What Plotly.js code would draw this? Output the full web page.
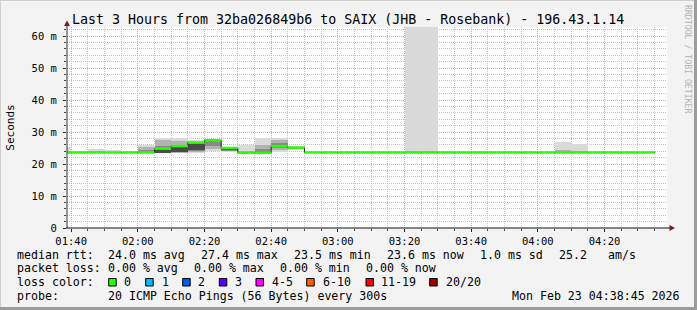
<!DOCTYPE html>
<html>
<head>
<meta charset="utf-8">
<script src="https://cdn.plot.ly/plotly-3.0.1.min.js"></script>
<style>
  html, body { margin: 0; padding: 0; background: #f3f3f3; }
  #chart { width: 697px; height: 310px; }
</style>
</head>
<body>
<div id="chart"></div>
<script>
// ---------------- data ----------------
const day = '2026-02-23 ';
const stepStart = ['01:35','01:40','01:45','01:50','01:55','02:00','02:05','02:10','02:15','02:20',
                   '02:25','02:30','02:35','02:40','02:45','02:50','02:55','03:00','03:05','03:10',
                   '03:15','03:20','03:25','03:30','03:35','03:40','03:45','03:50','03:55','04:00',
                   '04:05','04:10','04:15','04:20','04:25','04:30'];
const lastStepEnd = '04:35';

// median rtt (ms)
const median = [23.6,23.6,23.6,23.6,23.6,23.6,24.8,25.6,26.7,27.4,
                25.0,23.5,23.5,25.6,25.1,23.6,23.6,23.6,23.6,23.6,
                23.6,23.6,23.6,23.6,23.6,23.6,23.6,23.6,23.6,23.6,
                23.6,23.6,23.6,23.6,23.6,23.6];

// smoke layers (ms): outer (min..max), then inner percentile bands
const smokeLo1 = [23.3,23.3,23.3,23.3,23.3,23.3,23.3,23.3,23.3,24.2,
                  23.8,23.3,23.3,23.6,24.7,23.3,23.3,23.3,23.3,23.3,
                  23.3,23.3,23.3,23.3,23.3,23.3,23.3,23.3,23.3,23.3,
                  23.3,23.3,23.3,23.3,23.3,23.3];
const smokeHi1 = [25.3,23.9,24.8,24.5,23.9,26.0,28.1,28.1,27.4,27.9,
                  25.2,25.8,28.1,28.2,25.5,23.9,23.9,23.9,23.9,23.9,
                  23.9,80.0,80.0,23.9,23.9,23.9,23.9,23.9,23.9,23.9,
                  26.9,26.2,23.9,23.9,23.9,23.9];
const smokeLo2 = [23.4,23.4,23.4,23.4,23.4,23.4,23.4,23.5,23.6,24.6,
                  24.0,23.4,23.4,24.4,24.8,23.4,23.4,23.4,23.4,23.4,
                  23.4,23.4,23.4,23.4,23.4,23.4,23.4,23.4,23.4,23.4,
                  23.4,23.4,23.4,23.4,23.4,23.4];
const smokeHi2 = [24.2,23.8,24.0,23.9,23.8,25.4,27.4,27.1,27.0,27.6,
                  25.1,24.2,26.0,27.6,25.4,23.8,23.8,23.8,23.8,23.8,
                  23.8,24.0,24.0,23.8,23.8,23.8,23.8,23.8,23.8,23.8,
                  24.5,24.2,23.8,23.8,23.8,23.8];
const smokeLo3 = [23.5,23.5,23.5,23.5,23.5,23.5,23.5,23.8,24.2,25.6,
                  24.2,23.5,23.5,25.0,24.9,23.5,23.5,23.5,23.5,23.5,
                  23.5,23.5,23.5,23.5,23.5,23.5,23.5,23.5,23.5,23.5,
                  23.5,23.5,23.5,23.5,23.5,23.5];
const smokeHi3 = [23.7,23.7,23.7,23.7,23.7,24.4,25.6,25.9,26.9,27.5,
                  25.0,23.7,24.6,26.6,25.3,23.7,23.7,23.7,23.7,23.7,
                  23.7,23.7,23.7,23.7,23.7,23.7,23.7,23.7,23.7,23.7,
                  23.7,23.7,23.7,23.7,23.7,23.7];
const smokeLo4 = [null,null,null,null,null,null,23.4,23.6,24.5,null,
                  24.3,null,null,null,null,null,null,null,null,null,
                  null,null,null,null,null,null,null,null,null,null,
                  null,null,null,null,null,null];
const smokeHi4 = [null,null,null,null,null,null,24.6,25.2,26.2,null,
                  24.9,null,null,null,null,null,null,null,null,null,
                  null,null,null,null,null,null,null,null,null,null,
                  null,null,null,null,null,null];

// y ticks
const yTickVals = [0,10,20,30,40,50,60];
const yTickText = ['0','10 m','20 m','30 m','40 m','50 m','60 m'];

// legend texts
const rttLabels = ['median rtt:','24.0 ms avg','27.4 ms max','23.5 ms min','23.6 ms now','1.0 ms sd','25.2','am/s'];
const lossLabels = ['packet loss:','0.00 % avg','0.00 % max','0.00 % min','0.00 % now'];
const lossColorNames = ['0','1','2','3','4-5','6-10','11-19','20/20'];
const lossColors = ['#26ff00','#00b8ff','#0059ff','#5e00ff','#ff00ff','#ff5e00','#ff0000','#a10000'];
const probeText = '20 ICMP Echo Pings (56 Bytes) every 300s';
const stampText = 'Mon Feb 23 04:38:45 2026';
const titleText = 'Last 3 Hours from 32ba026849b6 to SAIX (JHB - Rosebank) - 196.43.1.14';

// ---------------- layout helpers ----------------
const FONT = 'DejaVu Sans Mono';
const L = 67, R = 667, T = 27, B = 228;
const W = R - L, H = B - T;
const px = x => (x - L) / W;
const py = y => (B - y) / H;

const xs = stepStart.map(t => day + t + ':00');
const bounds = xs.concat([day + lastStepEnd + ':00']);

function smokeTrace(lo, hi, color) {
  return {
    type: 'bar', x: xs, base: lo,
    y: hi.map((h, i) => (h == null || lo[i] == null) ? null : h - lo[i]),
    offset: 0, width: 300000,
    marker: { color: color, line: { width: 0 } },
    hoverinfo: 'skip'
  };
}

const traces = [
  smokeTrace(smokeLo1, smokeHi1, '#dadada'),
  smokeTrace(smokeLo2, smokeHi2, '#b2b2b2'),
  smokeTrace(smokeLo3, smokeHi3, '#8a8a8a'),
  smokeTrace(smokeLo4, smokeHi4, '#4a4a4a'),
  {
    type: 'scatter', mode: 'lines',
    x: bounds, y: median.concat([median[median.length - 1]]),
    line: { shape: 'hv', color: '#202020', width: 1 },
    hoverinfo: 'skip'
  }
];
// green median segments (horizontal only)
const gx = [], gy = [];
median.forEach((m, i) => { gx.push(bounds[i], bounds[i + 1], null); gy.push(m, m, null); });
traces.push({
  type: 'scatter', mode: 'lines', x: gx, y: gy,
  line: { color: lossColors[0], width: 2.5 }, hoverinfo: 'skip'
});

// ---------------- annotations ----------------
const ann = [];
function txt(text, x, y, opts) {
  ann.push(Object.assign({
    text: text, xref: 'paper', yref: 'paper', x: px(x), y: py(y),
    xanchor: 'left', yanchor: 'middle', showarrow: false, borderpad: 0,
    font: { family: FONT, size: 11.6, color: '#000' }
  }, opts || {}));
}
const rttX = [16, 107, 200, 293, 386, 479, 558, 607];
rttLabels.forEach((t, i) => txt(t, rttX[i], 254.7));
const lossX = [16, 107, 193, 279, 365];
lossLabels.forEach((t, i) => txt(t, lossX[i], 268.3));
txt('loss color:', 16, 282);
const boxX = [108.7, 145.7, 182.7, 219.3, 256, 306.7, 366, 429.7];
const boxLabelX = [123.3, 160.7, 196.7, 234.3, 270.7, 321.7, 379.7, 444.7];
lossColorNames.forEach((t, i) => txt(t, boxLabelX[i], 282));
txt('probe:', 16, 296);
txt(probeText, 107, 296);
txt(stampText, 680.5, 296, { xanchor: 'right' });
txt('RRDTOOL / TOBI OETIKER', 688, 59, {
  xanchor: 'center', textangle: 90,
  font: { family: FONT, size: 8.2, color: '#b4b4b4' }
});

// ---------------- shapes ----------------
const shapes = [];
lossColors.forEach((c, i) => {
  shapes.push({
    type: 'rect', xref: 'paper', yref: 'paper',
    x0: px(boxX[i]), x1: px(boxX[i] + 7.5), y0: py(278.5), y1: py(286),
    fillcolor: c, line: { color: '#000', width: 1 }
  });
});
// frame
shapes.push({ type: 'line', xref: 'paper', yref: 'paper', x0: px(0), x1: px(697), y0: py(0.5), y1: py(0.5), line: { color: '#d0d0d0', width: 1 } });
shapes.push({ type: 'line', xref: 'paper', yref: 'paper', x0: px(0.5), x1: px(0.5), y0: py(0), y1: py(310), line: { color: '#d0d0d0', width: 1 } });
shapes.push({ type: 'line', xref: 'paper', yref: 'paper', x0: px(0), x1: px(697), y0: py(308.5), y1: py(308.5), line: { color: '#9c9c9c', width: 3 } });
shapes.push({ type: 'line', xref: 'paper', yref: 'paper', x0: px(695.5), x1: px(695.5), y0: py(0), y1: py(310), line: { color: '#9c9c9c', width: 3 } });
// axis extensions and arrows
shapes.push({ type: 'line', xref: 'paper', yref: 'paper', x0: px(67), x1: px(67), y0: py(228), y1: py(24), line: { color: '#333', width: 1 } });
shapes.push({ type: 'line', xref: 'paper', yref: 'paper', x0: px(66), x1: px(671), y0: py(228), y1: py(228), line: { color: '#111', width: 1 } });
shapes.push({
  type: 'path', xref: 'paper', yref: 'paper',
  path: `M ${px(67)},${py(20.5)} L ${px(64)},${py(26)} L ${px(70)},${py(26)} Z`,
  fillcolor: '#7f1c1c', line: { width: 0 }
});
shapes.push({
  type: 'path', xref: 'paper', yref: 'paper',
  path: `M ${px(675)},${py(228)} L ${px(669.5)},${py(225)} L ${px(669.5)},${py(231)} Z`,
  fillcolor: '#7f1c1c', line: { width: 0 }
});

const layout = {
  width: 697, height: 310,
  margin: { l: L, r: 697 - R, t: T, b: 310 - B, pad: 0 },
  paper_bgcolor: '#f3f3f3', plot_bgcolor: '#ffffff',
  barmode: 'overlay', bargap: 0, showlegend: false,
  title: {
    text: titleText, xref: 'container', yref: 'container',
    x: 72 / 697, xanchor: 'left', y: 1 - 19 / 310, yanchor: 'middle',
    font: { family: FONT, size: 13.3, color: '#000' }
  },
  xaxis: {
    type: 'date',
    range: [day + '01:38:45', day + '04:38:45'],
    tickmode: 'linear', tick0: day + '01:40:00', dtick: 1200000,
    tickformat: '%H:%M',
    showgrid: true, gridcolor: '#f09c9c', griddash: '1px,1px', gridwidth: 1,
    ticks: 'outside', ticklen: 3, tickcolor: '#222',
    showline: false, zeroline: false,
    tickfont: { family: FONT, size: 10.5, color: '#000' },
    minor: {
      tickmode: 'linear', tick0: day + '01:40:00', dtick: 300000,
      showgrid: true, gridcolor: '#c2c2c2', griddash: '1px,1px', gridwidth: 1,
      ticks: 'outside', ticklen: 2, tickcolor: '#444'
    },
    fixedrange: true
  },
  yaxis: {
    range: [0, H / 3.2],
    tickmode: 'array', tickvals: yTickVals, ticktext: yTickText,
    showgrid: true, gridcolor: '#f09c9c', griddash: '1px,1px', gridwidth: 1,
    ticks: 'outside', ticklen: 3, tickcolor: '#333',
    ticklabelstandoff: 4,
    showline: false, zeroline: false,
    tickfont: { family: FONT, size: 10.5, color: '#000' },
    title: { text: 'Seconds', font: { family: FONT, size: 11, color: '#000' }, standoff: 14 },
    minor: {
      tickmode: 'linear', tick0: 0, dtick: 2,
      showgrid: true, gridcolor: '#c2c2c2', griddash: '1px,1px', gridwidth: 1,
      ticks: 'outside', ticklen: 2, tickcolor: '#444'
    },
    fixedrange: true
  },
  annotations: ann,
  shapes: shapes
};

Plotly.newPlot('chart', traces, layout, { displayModeBar: false, staticPlot: true });
</script>
</body>
</html>
